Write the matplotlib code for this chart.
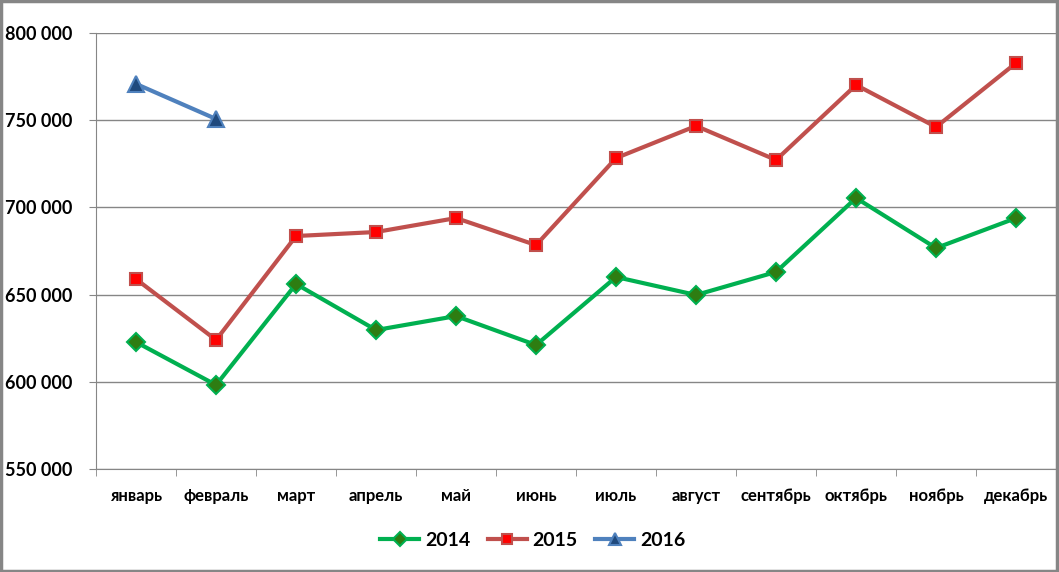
import matplotlib
matplotlib.use("Agg")
import matplotlib.pyplot as plt
from matplotlib.patches import Rectangle
from matplotlib.ticker import FuncFormatter
import numpy as np

months = ["январь", "февраль", "март", "апрель", "май", "июнь",
          "июль", "август", "сентябрь", "октябрь", "ноябрь", "декабрь"]
sales_2014 = [622800, 598200, 656100, 629700, 637700, 621100,
              660100, 649800, 663000, 705400, 676700, 693900]
sales_2015 = [658900, 624000, 683600, 685900, 693900, 678400,
              728300, 746700, 727200, 770200, 746100, 782800]
sales_2016 = [770800, 750700]

plt.rcParams["font.family"] = ["Lato", "DejaVu Sans"]

fig = plt.figure(figsize=(10.59, 5.72), dpi=100)
ax = fig.add_axes([0.0907, 0.18, 0.9065, 0.7623])

x = np.arange(len(months))
ax.plot(x, sales_2014, color="#00B050", lw=3, marker="D", ms=9,
        mfc="#2E7D12", mec="#00B050", mew=1.5, label="2014", zorder=3)
ax.plot(x, sales_2015, color="#C0504D", lw=3, marker="s", ms=9,
        mfc="#FF0000", mec="#C0504D", mew=1.5, label="2015", zorder=3)
ax.plot(x[:len(sales_2016)], sales_2016, color="#4F81BD", lw=3, marker="^", ms=11,
        mfc="#1F497D", mec="#4F81BD", mew=1.5, label="2016", zorder=3)

ax.set_xlim(-0.5, len(months) - 0.5)
ax.set_ylim(550000, 800000)
ax.set_yticks(np.arange(550000, 800001, 50000))
ax.yaxis.set_major_formatter(FuncFormatter(lambda v, p: f"{int(v):,}".replace(",", " ")))
ax.set_xticks(x)
ax.set_xticklabels(months)
ax.set_xticks(np.arange(-0.5, len(months)), minor=True)
ax.tick_params(axis="x", which="major", length=0, pad=14, labelsize=12)
ax.tick_params(axis="x", which="minor", length=5, color="#868686", direction="out")
ax.tick_params(axis="y", length=5, color="#868686", pad=12, labelsize=13)
for lab in ax.get_xticklabels() + ax.get_yticklabels():
    lab.set_fontweight("bold")

ax.grid(axis="y", color="#868686", lw=1)
ax.set_axisbelow(True)
for side in ["top", "right"]:
    ax.spines[side].set_visible(False)
for side in ["left", "bottom"]:
    ax.spines[side].set_color("#868686")

leg = ax.legend(loc="center", bbox_to_anchor=(0.455, -0.164), ncol=3,
                frameon=False, prop={"size": 14, "weight": "bold"},
                handlelength=2.0, columnspacing=0.9, handletextpad=0.3,
                markerscale=0.75)

fig.patches.append(Rectangle((0.001, 0.002), 0.997, 0.996, transform=fig.transFigure,
                             fill=False, edgecolor="#868686", lw=2.5))

fig.savefig("out.png", dpi=100)
